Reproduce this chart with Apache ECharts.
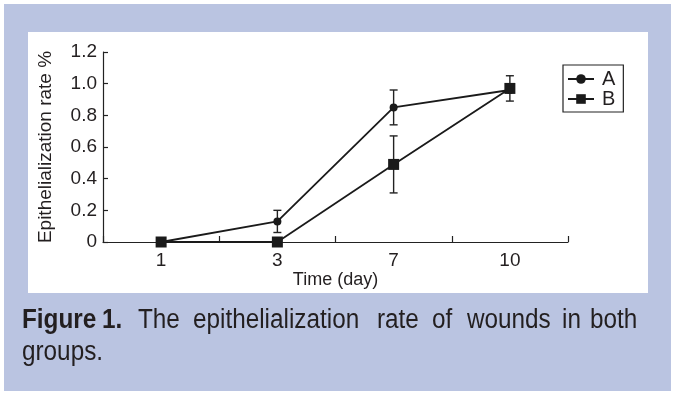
<!DOCTYPE html>
<html>
<head>
<meta charset="utf-8">
<script src="https://cdn.jsdelivr.net/npm/echarts@6/dist/echarts.min.js"></script>
<style>
html,body{margin:0;padding:0;background:#fff;}
#c{width:675px;height:395px;}
</style>
</head>
<body>
<div id="c"></div>
<script>
var days = ['1', '3', '7', '10'];
var seriesA = [0, 0.13, 0.85, 0.96];
var errA = [0, 0.07, 0.11, 0];
var seriesB = [0, 0, 0.49, 0.97];
var errB = [0, 0, 0.18, 0.08];

var FONT = '"Liberation Sans", Arial, sans-serif';
var INK = '#231f20';

// caption words: [text, left, line, bold]
var captionWords = [
  ['Figure', 22, 0, true], ['1.', 102, 0, true], ['The', 138, 0, false],
  ['epithelialization', 193, 0, false], ['rate', 377, 0, false], ['of', 432, 0, false],
  ['wounds', 467, 0, false], ['in', 562, 0, false], ['both', 590, 0, false],
  ['groups.', 22, 1, false]
];
var captionLineY = [321, 353];
var CAP_SIZE = 27;
var CAP_SCALE = 0.9;

function captionGraphics() {
  return captionWords.map(function (w) {
    var font = (w[3] ? 'bold ' : '') + CAP_SIZE + 'px ' + FONT;
    return {
      type: 'text', x: w[1], y: captionLineY[w[2]], scaleX: CAP_SCALE,
      style: {text: w[0], font: font, fill: INK, verticalAlign: 'middle', align: 'left'}
    };
  });
}

function errData(vals, errs) {
  var out = [];
  for (var i = 0; i < vals.length; i++) {
    if (errs[i] > 0) out.push([i, vals[i] - errs[i], vals[i] + errs[i]]);
  }
  return out;
}

function renderErr(params, api) {
  var x = api.value(0);
  var lo = api.coord([x, api.value(1)]);
  var hi = api.coord([x, api.value(2)]);
  var w = 4;
  var st = {stroke: '#222', lineWidth: 1.4};
  return {
    type: 'group',
    children: [
      {type: 'line', shape: {x1: lo[0], y1: lo[1], x2: hi[0], y2: hi[1]}, style: st},
      {type: 'line', shape: {x1: lo[0] - w, y1: lo[1], x2: lo[0] + w, y2: lo[1]}, style: st},
      {type: 'line', shape: {x1: hi[0] - w, y1: hi[1], x2: hi[0] + w, y2: hi[1]}, style: st}
    ]
  };
}

var chart = echarts.init(document.getElementById('c'), null, {renderer: 'canvas'});
chart.setOption({
  backgroundColor: '#fff',
  animation: false,
  graphic: [
    {type: 'rect', z: -10, shape: {x: 4, y: 4, width: 667, height: 387}, style: {fill: '#BAC4E1'}},
    {type: 'rect', z: -9, shape: {x: 28, y: 32, width: 620, height: 261}, style: {fill: '#ffffff'}}
  ].concat(captionGraphics()),
  grid: {left: 103, top: 52, right: 107, bottom: 153, containLabel: false},
  legend: {
    left: 563, top: 65, orient: 'vertical',
    borderColor: '#222', borderWidth: 1.2, padding: [4, 8, 3, 4],
    itemWidth: 26, itemHeight: 12, itemGap: 0,
    textStyle: {fontSize: 20, lineHeight: 20, fontFamily: FONT, color: INK, padding: [0, 0, 0, 3]},
    data: ['A', 'B']
  },
  xAxis: {
    type: 'category', data: days, boundaryGap: true,
    name: 'Time (day)', nameLocation: 'middle', nameGap: 21,
    nameTextStyle: {fontSize: 18, fontFamily: FONT, color: INK},
    axisLine: {show: true, lineStyle: {color: '#222', width: 1.2}},
    axisTick: {show: true, inside: true, length: 6, alignWithLabel: false, lineStyle: {color: '#222', width: 1.2}},
    axisLabel: {fontSize: 19, fontFamily: FONT, color: INK, margin: 9}
  },
  yAxis: {
    type: 'value', min: 0, max: 1.2, interval: 0.2,
    name: 'Epithelialization rate %', nameLocation: 'middle', nameGap: 48, nameRotate: 90,
    nameTextStyle: {fontSize: 19, fontFamily: FONT, color: INK},
    axisLine: {show: true, lineStyle: {color: '#222', width: 1.2}},
    axisTick: {show: true, inside: true, length: 5, lineStyle: {color: '#222', width: 1.2}},
    splitLine: {show: false},
    axisLabel: {fontSize: 19, fontFamily: FONT, color: INK, margin: 6,
      formatter: function (v) { return v === 0 ? '0' : v.toFixed(1); }}
  },
  series: [
    {name: 'A', type: 'line', data: seriesA, symbol: 'circle', symbolSize: 8,
     itemStyle: {color: '#1a1a1a'}, lineStyle: {color: '#1a1a1a', width: 1.8}, z: 3},
    {name: 'B', type: 'line', data: seriesB, symbol: 'rect', symbolSize: 11,
     itemStyle: {color: '#1a1a1a'}, lineStyle: {color: '#1a1a1a', width: 1.8}, z: 3},
    {name: 'errA', type: 'custom', data: errData(seriesA, errA), renderItem: renderErr, z: 2},
    {name: 'errB', type: 'custom', data: errData(seriesB, errB), renderItem: renderErr, z: 2}
  ]
});
</script>
</body>
</html>
